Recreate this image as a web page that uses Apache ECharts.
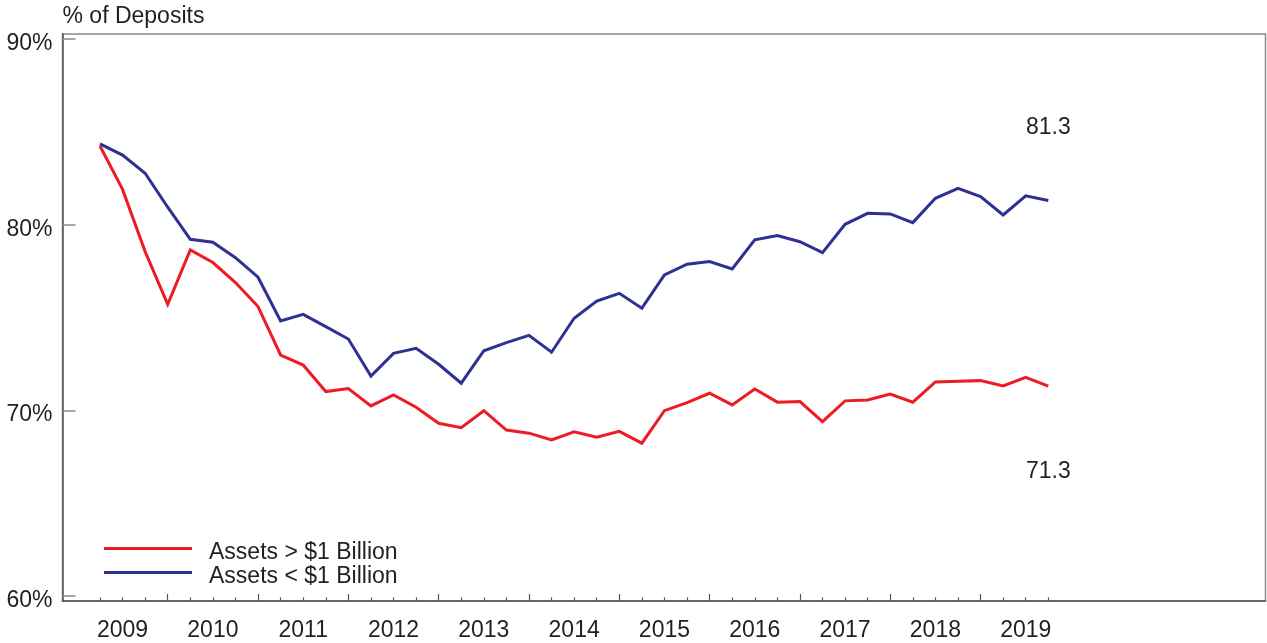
<!DOCTYPE html>
<html>
<head>
<meta charset="utf-8">
<title>Loans as % of Deposits</title>
<script src="https://cdn.jsdelivr.net/npm/echarts@6/dist/echarts.min.js"></script>
<style>
  html, body { margin: 0; padding: 0; background: #ffffff; }
  #chart { width: 1267px; height: 643px; }
</style>
</head>
<body>
<div id="chart"></div>
<script>
// Quarter-end observations, 2009 Q1 through 2019 Q3
const quarters = [
  '2009Q1','2009Q2','2009Q3','2009Q4',
  '2010Q1','2010Q2','2010Q3','2010Q4',
  '2011Q1','2011Q2','2011Q3','2011Q4',
  '2012Q1','2012Q2','2012Q3','2012Q4',
  '2013Q1','2013Q2','2013Q3','2013Q4',
  '2014Q1','2014Q2','2014Q3','2014Q4',
  '2015Q1','2015Q2','2015Q3','2015Q4',
  '2016Q1','2016Q2','2016Q3','2016Q4',
  '2017Q1','2017Q2','2017Q3','2017Q4',
  '2018Q1','2018Q2','2018Q3','2018Q4',
  '2019Q1','2019Q2','2019Q3'
];

// Banks with assets above $1 billion (% of deposits)
const largeBanks = [
  84.24, 81.90, 78.55, 75.71,
  78.64, 77.96, 76.88, 75.59,
  72.98, 72.44, 71.01, 71.17,
  70.24, 70.83, 70.17, 69.30,
  69.07, 69.98, 68.94, 68.77,
  68.41, 68.84, 68.55, 68.87,
  68.23, 69.98, 70.42, 70.92,
  70.29, 71.15, 70.44, 70.47,
  69.39, 70.51, 70.56, 70.88,
  70.44, 71.53, 71.57, 71.60,
  71.31, 71.78, 71.3
];

// Banks with assets below $1 billion (% of deposits)
const smallBanks = [
  84.35, 83.75, 82.77, 80.94,
  79.21, 79.05, 78.22, 77.17,
  74.81, 75.17, 74.51, 73.84,
  71.85, 73.07, 73.34, 72.48,
  71.46, 73.21, 73.65, 74.04,
  73.13, 74.96, 75.89, 76.30,
  75.50, 77.29, 77.87, 78.01,
  77.61, 79.18, 79.41, 79.08,
  78.49, 80.02, 80.61, 80.58,
  80.11, 81.42, 81.96, 81.51,
  80.52, 81.55, 81.3
];

const yTickValues = [60, 70, 80, 90];
const yearLabels = [2009, 2010, 2011, 2012, 2013, 2014, 2015, 2016, 2017, 2018, 2019];

const seriesNames = ['Assets > $1 Billion', 'Assets < $1 Billion'];
const seriesColors = ['#ed1c24', '#2e3192'];

// Convert "YYYYQn" to a position on a continuous year scale (quarter end)
function quarterEnd(q) {
  const year = parseInt(q.slice(0, 4), 10);
  const n = parseInt(q.slice(5), 10);
  return year + n * 0.25;
}

const FONT = "'Liberation Sans', Arial, Helvetica, sans-serif";
const FONT_SIZE = 23;
const TEXT_COLOR = '#231f20';

// Year boundaries get long ticks, the other quarter ends get short ones
const yearTicks = yearLabels.slice(1);
const quarterTicks = quarters.map(quarterEnd).filter(t => Math.abs(t - Math.round(t)) > 1e-6);
const yearLabelPos = yearLabels.map(y => y + 0.5);

// Line data; the latest point carries a value label
function buildData(values, labelPos, labelDist) {
  return values.map((v, i) => {
    const item = { value: [quarterEnd(quarters[i]), v] };
    if (i === values.length - 1) {
      item.symbol = 'circle';
      item.symbolSize = 1;
      item.itemStyle = { color: 'rgba(0,0,0,0)', borderWidth: 0 };
      item.label = {
        show: true,
        position: labelPos,
        distance: labelDist,
        formatter: p => p.value[1].toFixed(1),
        color: TEXT_COLOR,
        fontFamily: FONT,
        fontSize: FONT_SIZE
      };
    }
    return item;
  });
}

const xMin = 2008.835, xMax = 2022.155;
const yMin = 59.731, yMax = 90.269;

const chart = echarts.init(document.getElementById('chart'), null, { renderer: 'canvas' });

chart.setOption({
  animation: false,
  backgroundColor: '#ffffff',
  grid: {
    left: 62.5, top: 34, right: 1.5, bottom: 42,
    outerBoundsMode: 'none',
    containLabel: false,
    show: true,
    borderColor: '#8a8a8a',
    borderWidth: 1.5,
    backgroundColor: 'transparent'
  },
  legend: {
    orient: 'vertical',
    left: 104,
    top: 541.5,
    padding: 0,
    itemWidth: 88,
    itemHeight: 12,
    itemGap: 1,
    icon: 'path://M0,0h88v3h-88zM0,12h88v0h-88z',
    data: seriesNames,
    textStyle: {
      color: TEXT_COLOR,
      fontFamily: FONT,
      fontSize: FONT_SIZE,
      lineHeight: 23,
      padding: [0, 0, 0, 12]
    },
    selectedMode: false
  },
  xAxis: [
    {
      type: 'value',
      min: xMin, max: xMax,
      position: 'bottom',
      splitLine: { show: false },
      axisLine: { show: true, lineStyle: { color: '#555555', width: 1.5 } },
      axisTick: {
        show: true, inside: true, length: 7,
        customValues: yearTicks,
        lineStyle: { color: '#555555', width: 1.2 }
      },
      axisLabel: {
        show: true,
        customValues: yearLabelPos,
        formatter: v => String(Math.floor(v + 1e-6)),
        color: TEXT_COLOR,
        fontFamily: FONT,
        fontSize: FONT_SIZE,
        margin: 18
      }
    },
    {
      type: 'value',
      min: xMin, max: xMax,
      position: 'bottom',
      splitLine: { show: false },
      axisLine: { show: false },
      axisTick: {
        show: true, inside: true, length: 3.5,
        customValues: quarterTicks,
        lineStyle: { color: '#555555', width: 1.2 }
      },
      axisLabel: { show: false }
    }
  ],
  yAxis: {
    type: 'value',
    min: yMin, max: yMax,
    name: '% of Deposits',
    nameLocation: 'end',
    nameGap: 6,
    nameTextStyle: {
      color: TEXT_COLOR,
      fontFamily: FONT,
      fontSize: FONT_SIZE,
      align: 'left'
    },
    splitLine: { show: false },
    axisLine: { show: true, lineStyle: { color: '#555555', width: 1.5 } },
    axisTick: {
      show: true, inside: true, length: 13,
      customValues: yTickValues,
      lineStyle: { color: '#8a8a8a', width: 1.5 }
    },
    axisLabel: {
      customValues: yTickValues,
      formatter: v => Math.round(v) + '%',
      color: TEXT_COLOR,
      fontFamily: FONT,
      fontSize: FONT_SIZE,
      verticalAlign: 'top',
      lineHeight: 9,
      margin: 10
    }
  },
  series: [
    {
      name: seriesNames[0],
      type: 'line',
      xAxisIndex: 0,
      symbol: 'none',
      showSymbol: true,
      color: seriesColors[0],
      lineStyle: { color: seriesColors[0], width: 3, join: 'miter' },
      data: buildData(largeBanks, 'bottom', 73.5),
      silent: true,
      z: 3
    },
    {
      name: seriesNames[1],
      type: 'line',
      xAxisIndex: 0,
      symbol: 'none',
      showSymbol: true,
      color: seriesColors[1],
      lineStyle: { color: seriesColors[1], width: 3, join: 'miter' },
      data: buildData(smallBanks, 'top', 61),
      silent: true,
      z: 4
    }
  ]
});
</script>
</body>
</html>
